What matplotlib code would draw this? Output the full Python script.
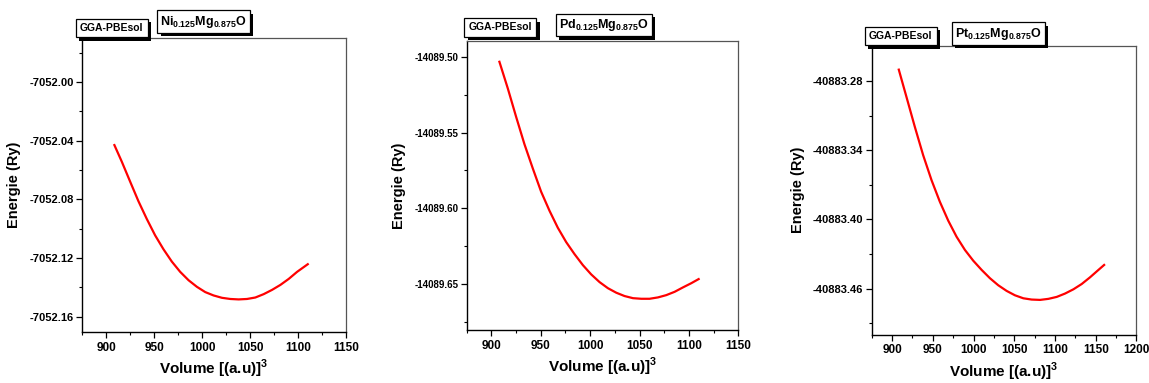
# -*- coding: utf-8 -*-
# E(V) curves for Ni, Pd, Pt doped MgO (GGA-PBEsol)
import matplotlib.pyplot as plt
import matplotlib.patheffects as pe
from matplotlib.ticker import MultipleLocator, FormatStrFormatter

# values
vol_ni = [908.7, 916.4, 925.1, 933.7, 942.4, 951.1, 959.8, 968.5, 977.2, 985.9, 994.6, 1003.3,
          1012.0, 1020.7, 1029.4, 1038.1, 1046.8, 1055.5, 1064.2, 1072.9, 1081.6, 1090.3, 1099.0, 1110.1]
e_ni = [-7052.0430, -7052.0543, -7052.0679, -7052.0812, -7052.0933, -7052.1045, -7052.1140, -7052.1224,
        -7052.1294, -7052.1351, -7052.1396, -7052.1432, -7052.1455, -7052.1471, -7052.1479, -7052.1482,
        -7052.1479, -7052.1469, -7052.1446, -7052.1417, -7052.1383, -7052.1342, -7052.1294, -7052.1242]

vol_pd = [908.1, 916.6, 925.0, 933.4, 941.9, 950.3, 958.8, 967.2, 975.7, 984.1, 992.6, 1001.0, 1009.5,
          1017.9, 1026.4, 1034.8, 1043.3, 1051.7, 1060.1, 1068.6, 1077.0, 1085.5, 1093.9, 1102.4, 1109.8]
e_pd = [-14089.5033, -14089.5209, -14089.5396, -14089.5576, -14089.5737, -14089.5890, -14089.6016,
        -14089.6128, -14089.6223, -14089.6302, -14089.6375, -14089.6436, -14089.6487, -14089.6527,
        -14089.6557, -14089.6579, -14089.6593, -14089.6597, -14089.6597, -14089.6588, -14089.6573,
        -14089.6551, -14089.6522, -14089.6494, -14089.6467]

vol_pt = [908.2, 917.6, 927.9, 938.1, 948.4, 958.6, 968.9, 979.1, 989.4, 999.6, 1009.9, 1020.1, 1030.3,
          1040.6, 1050.8, 1061.1, 1071.3, 1081.6, 1091.8, 1102.1, 1112.3, 1122.6, 1132.8, 1143.0, 1153.3, 1160.3]
e_pt = [-40883.2702, -40883.2938, -40883.3198, -40883.3443, -40883.3660, -40883.3847, -40883.4011,
        -40883.4150, -40883.4265, -40883.4358, -40883.4438, -40883.4510, -40883.4571, -40883.4620,
        -40883.4658, -40883.4684, -40883.4695, -40883.4698, -40883.4689, -40883.4672, -40883.4643,
        -40883.4606, -40883.4560, -40883.4502, -40883.4438, -40883.4395]

formulas = [r'$\mathbf{Ni_{0.125}Mg_{0.875}O}$', r'$\mathbf{Pd_{0.125}Mg_{0.875}O}$', r'$\mathbf{Pt_{0.125}Mg_{0.875}O}$']
method = 'GGA-PBEsol'

plt.rcParams['font.family'] = ['Liberation Sans', 'DejaVu Sans']
plt.rcParams['font.weight'] = 'bold'
plt.rcParams['axes.labelweight'] = 'bold'
plt.rcParams['axes.unicode_minus'] = False
plt.rcParams['mathtext.fontset'] = 'custom'
plt.rcParams['mathtext.bf'] = 'Liberation Sans:bold'
plt.rcParams['mathtext.rm'] = 'Liberation Sans:bold'

fig = plt.figure(figsize=(11.49, 3.83), dpi=100)

# panel geometry (figure fractions), axis limits, tick steps, box positions
panels = [
    dict(rect=[0.0714, 0.1332, 0.2298, 0.7676], x=vol_ni, y=e_ni, xlim=(875, 1150), ylim=(-7052.1704, -7051.970),
         ystep=0.04, yfs=8, box1=(0.112, 1.034), box2=(0.46, 1.056)),
    dict(rect=[0.4062, 0.1384, 0.2364, 0.7553], x=vol_pd, y=e_pd, xlim=(875, 1150), ylim=(-14089.6803, -14089.4894),
         ystep=0.05, yfs=7, box1=(0.123, 1.046), box2=(0.505, 1.054)),
    dict(rect=[0.7587, 0.1266, 0.2304, 0.7533], x=vol_pt, y=e_pt, xlim=(875, 1200), ylim=(-40883.4998, -40883.2497),
         ystep=0.06, yfs=8, box1=(0.109, 1.035), box2=(0.478, 1.043)),
]

shadow = [pe.SimplePatchShadow(offset=(2.5, -2.5), shadow_rgbFace='black', alpha=1.0), pe.Normal()]

for p, formula in zip(panels, formulas):
    ax = fig.add_axes(p['rect'])
    ax.plot(p['x'], p['y'], color='red', lw=1.6)
    ax.set_xlim(*p['xlim'])
    ax.set_ylim(*p['ylim'])
    ax.xaxis.set_major_locator(MultipleLocator(50))
    ax.xaxis.set_minor_locator(MultipleLocator(25))
    ax.yaxis.set_major_locator(MultipleLocator(p['ystep']))
    ax.yaxis.set_minor_locator(MultipleLocator(p['ystep'] / 2))
    ax.yaxis.set_major_formatter(FormatStrFormatter('%.2f'))
    ax.tick_params(which='major', direction='out', length=4, width=0.9, labelsize=8.5, pad=3)
    ax.tick_params(axis='y', which='major', labelsize=p['yfs'], pad=2)
    ax.tick_params(which='minor', direction='out', length=2.5, width=0.8)
    for s in ['left', 'bottom']:
        ax.spines[s].set_linewidth(1.0)
    for s in ['top', 'right']:
        ax.spines[s].set_color('#555555')
        ax.spines[s].set_linewidth(0.9)
    ax.set_xlabel(r'Volume [(a.u)]$^{\mathbf{3}}$', fontsize=11, labelpad=3)
    ax.set_ylabel('Energie (Ry)', fontsize=10.5, labelpad=6)
    # the two labels in boxes with a black drop shadow
    t1 = ax.text(p['box1'][0], p['box1'][1], method, transform=ax.transAxes, fontsize=7.5,
                 ha='center', va='center', zorder=5,
                 bbox=dict(boxstyle='square,pad=0.4', fc='white', ec='black', lw=0.9))
    t2 = ax.text(p['box2'][0], p['box2'][1], formula, transform=ax.transAxes, fontsize=9,
                 ha='center', va='center', zorder=5,
                 bbox=dict(boxstyle='square,pad=0.25', fc='white', ec='black', lw=0.9))
    t1.get_bbox_patch().set_path_effects(shadow)
    t2.get_bbox_patch().set_path_effects(shadow)
    t1.set_clip_on(False)
    t2.set_clip_on(False)

plt.savefig('out.png', dpi=100)
